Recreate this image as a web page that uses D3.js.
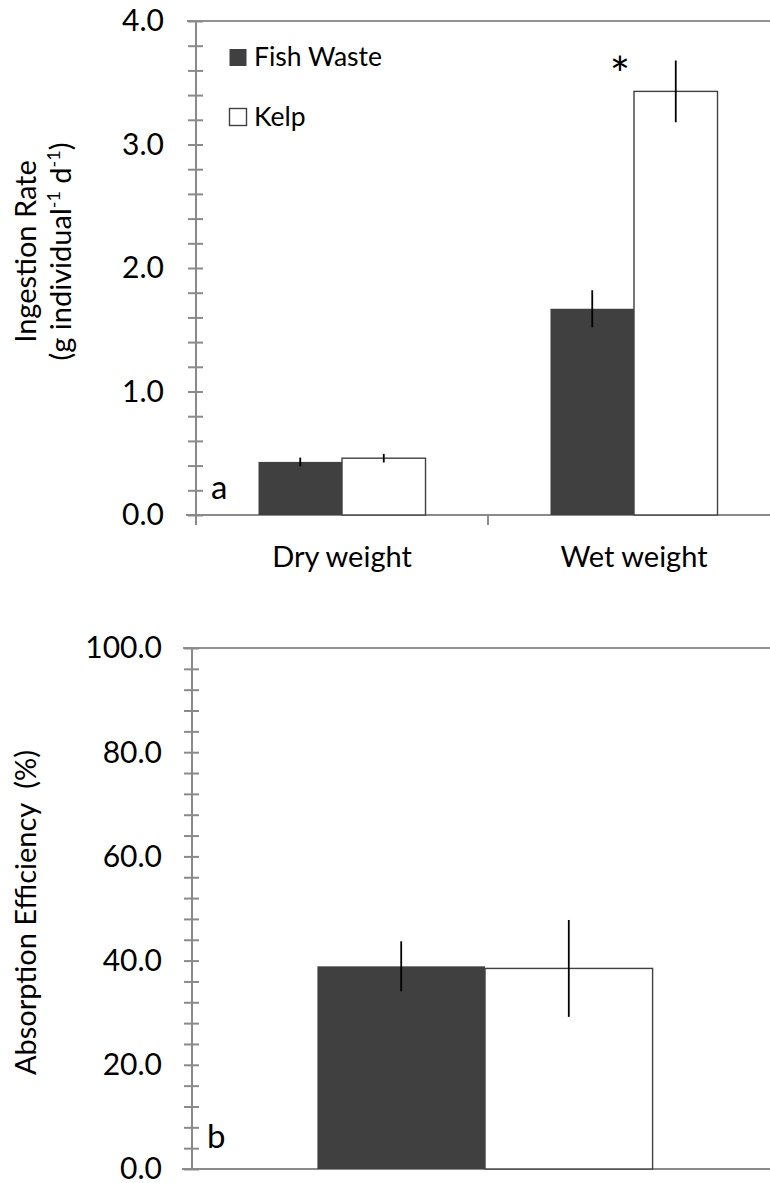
<!DOCTYPE html>
<html>
<head>
<meta charset="utf-8">
<script src="https://cdn.jsdelivr.net/npm/d3@7"></script>
<style>
  html, body { margin: 0; padding: 0; background: #fff; }
  svg { display: block; }
  text { font-family: Lato, "Open Sans", sans-serif; fill: #000; }
</style>
</head>
<body>
<svg id="chart" width="770" height="1183"></svg>
<script>
// Panel a: ingestion rate (g individual^-1 d^-1), mean ± SE
const irCategories = ["Dry weight", "Wet weight"];
const seriesNames = ["Fish Waste", "Kelp"];
const irFishWaste = [0.43, 1.67];
const irFishWasteSE = [0.035, 0.15];
const irKelp = [0.46, 3.43];
const irKelpSE = [0.035, 0.25];
const irMajorTicks = [0, 1, 2, 3, 4];

// Panel b: absorption efficiency (%), mean ± SE
const aeCategories = [""];
const aeFishWaste = [38.9];
const aeFishWasteSE = [4.8];
const aeKelp = [38.5];
const aeKelpSE = [9.3];
const aeMajorTicks = [0, 20, 40, 60, 80, 100];

const fills = { "Fish Waste": "#404040", "Kelp": "#ffffff" };
const AXIS = "#8a8a8a";
const BAR_EDGE = "#404040";
const TICK_FONT = 30;
const LABEL_FONT = 29;

const svg = d3.select("#chart");

function panel(opts) {
  const g = svg.append("g");
  const { x0, x1, yTop, yBottom, domain, majors, minorStep, fmt } = opts;

  const x = d3.scaleBand().domain(opts.categories).range([x0, x1]).padding(0);
  const y = d3.scaleLinear().domain(domain).range([yBottom, yTop]);
  const groupW = x.bandwidth() * 0.572;
  const xs = d3.scaleBand().domain(seriesNames).range([0, groupW]).padding(0);

  // plot frame top edge
  g.append("line")
    .attr("x1", x0 - 9).attr("x2", 770)
    .attr("y1", yTop).attr("y2", yTop)
    .attr("stroke", "#6e6e6e").attr("stroke-width", 1.5);

  // x axis baseline
  g.append("line")
    .attr("x1", x0 - 10).attr("x2", 770)
    .attr("y1", yBottom).attr("y2", yBottom)
    .attr("stroke", AXIS).attr("stroke-width", 2);

  // category divider ticks below the baseline
  if (opts.categoryTicks) {
    const bounds = opts.categories.map(c => x(c)).concat([x1]);
    g.selectAll("line.cat").data(bounds).join("line")
      .attr("class", "cat")
      .attr("x1", d => d).attr("x2", d => d)
      .attr("y1", yBottom).attr("y2", yBottom + 10)
      .attr("stroke", AXIS).attr("stroke-width", 2);
  }

  // y axis line
  g.append("line")
    .attr("x1", x0).attr("x2", x0)
    .attr("y1", yTop).attr("y2", yBottom + (opts.categoryTicks ? 10 : 0))
    .attr("stroke", AXIS).attr("stroke-width", 2);

  // crossing tick marks (major + minor)
  const minors = d3.range(domain[0], domain[1] + minorStep / 2, minorStep);
  const tickAxis = d3.axisLeft(y).tickValues(minors).tickSize(15).tickFormat("");
  const ta = g.append("g").attr("transform", `translate(${x0 + 7},0)`).call(tickAxis);
  ta.select(".domain").remove();
  ta.selectAll(".tick line").attr("stroke", AXIS).attr("stroke-width", 2);

  // major tick labels
  const labelAxis = d3.axisLeft(y).tickValues(majors).tickSize(0).tickPadding(0).tickFormat(d3.format(fmt));
  const la = g.append("g").attr("transform", `translate(${opts.labelX},0)`).call(labelAxis);
  la.select(".domain").remove();
  la.selectAll(".tick text")
    .attr("font-family", "Lato, 'Open Sans', sans-serif")
    .attr("font-size", TICK_FONT).attr("fill", "#000").attr("dy", "0.33em");

  // bars
  const rows = [];
  opts.categories.forEach((c, i) => {
    seriesNames.forEach(s => {
      const v = s === "Fish Waste" ? opts.fish[i] : opts.kelp[i];
      const e = s === "Fish Waste" ? opts.fishSE[i] : opts.kelpSE[i];
      rows.push({ c, s, v, e });
    });
  });
  const bx = d => x(d.c) + (x.bandwidth() - groupW) / 2 + xs(d.s);

  g.selectAll("rect.bar").data(rows).join("rect")
    .attr("class", "bar")
    .attr("x", bx)
    .attr("y", d => y(d.v))
    .attr("width", xs.bandwidth())
    .attr("height", d => y(domain[0]) - y(d.v))
    .attr("fill", d => fills[d.s])
    .attr("stroke", d => d.s === "Kelp" ? BAR_EDGE : "none")
    .attr("stroke-width", 1.4);

  // error bars (no caps)
  g.selectAll("line.err").data(rows).join("line")
    .attr("class", "err")
    .attr("x1", d => bx(d) + xs.bandwidth() / 2)
    .attr("x2", d => bx(d) + xs.bandwidth() / 2)
    .attr("y1", d => y(d.v + d.e))
    .attr("y2", d => y(d.v - d.e))
    .attr("stroke", "#000").attr("stroke-width", 1.8);

  // category labels
  if (opts.showCategoryLabels) {
    g.selectAll("text.cat").data(opts.categories).join("text")
      .attr("class", "cat")
      .attr("x", d => x(d) + x.bandwidth() / 2)
      .attr("y", yBottom + 52)
      .attr("text-anchor", "middle")
      .attr("font-size", LABEL_FONT)
      .text(d => d);
  }

  // panel letter
  g.append("text")
    .attr("x", opts.letterX).attr("y", opts.letterY)
    .attr("font-size", 33)
    .text(opts.letter);

  return { g, x, y, xs, groupW, rows, bx };
}

// ---- Panel a ----
const pa = panel({
  categories: irCategories,
  x0: 196, x1: 780, yTop: 21, yBottom: 515,
  domain: [0, 4], majors: irMajorTicks, minorStep: 0.2, fmt: ".1f",
  labelX: 164,
  fish: irFishWaste, fishSE: irFishWasteSE, kelp: irKelp, kelpSE: irKelpSE,
  categoryTicks: true, showCategoryLabels: true,
  letter: "a", letterX: 211, letterY: 499
});

// significance marker over wet-weight kelp
{
  const kelpWet = pa.rows.find(r => r.c === "Wet weight" && r.s === "Kelp");
  pa.g.append("text")
    .attr("x", pa.bx(kelpWet) - 14)
    .attr("y", pa.y(kelpWet.v) + 1)
    .attr("text-anchor", "middle")
    .attr("font-size", 48)
    .text("*");
}

// legend
const legend = svg.append("g").attr("transform", "translate(229.5,0)");
const legendY = [57.5, 117];
seriesNames.forEach((s, i) => {
  legend.append("rect")
    .attr("x", 0).attr("y", legendY[i] - 8.5)
    .attr("width", 17).attr("height", 17)
    .attr("fill", fills[s])
    .attr("stroke", s === "Kelp" ? BAR_EDGE : "none")
    .attr("stroke-width", 1.4);
  legend.append("text")
    .attr("x", 24.5).attr("y", legendY[i] + 8.5)
    .attr("font-size", 26.5)
    .text(s);
});

// y axis title, panel a
svg.append("text")
  .attr("transform", "translate(36,251.5) rotate(-90)")
  .attr("text-anchor", "middle")
  .attr("font-size", LABEL_FONT)
  .text("Ingestion Rate");
const ta2 = svg.append("text")
  .attr("transform", "translate(71,251.5) rotate(-90)")
  .attr("text-anchor", "middle")
  .attr("font-size", LABEL_FONT);
ta2.append("tspan").text("(g individual");
ta2.append("tspan").attr("font-size", 18).attr("dy", -11).text("-1");
ta2.append("tspan").attr("dy", 11).text(" d");
ta2.append("tspan").attr("font-size", 18).attr("dy", -11).text("-1");
ta2.append("tspan").attr("dy", 11).text(")");

// ---- Panel b ----
panel({
  categories: aeCategories,
  x0: 192, x1: 778, yTop: 648, yBottom: 1169,
  domain: [0, 100], majors: aeMajorTicks, minorStep: 4, fmt: ".1f",
  labelX: 162,
  fish: aeFishWaste, fishSE: aeFishWasteSE, kelp: aeKelp, kelpSE: aeKelpSE,
  categoryTicks: false, showCategoryLabels: false,
  letter: "b", letterX: 207, letterY: 1148
});

svg.append("text")
  .attr("transform", "translate(36,912.5) rotate(-90)")
  .attr("text-anchor", "middle")
  .attr("font-size", LABEL_FONT)
  .attr("xml:space", "preserve")
  .style("white-space", "pre")
  .text("Absorption Efficiency  (%)");
</script>
</body>
</html>
